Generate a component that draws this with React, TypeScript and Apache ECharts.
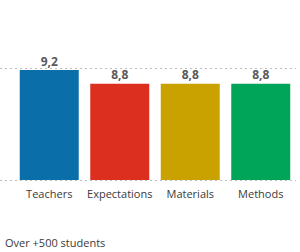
import React, { useEffect, useRef } from "react";
import * as echarts from "echarts";

const categories = ["Teachers", "Expectations", "Materials", "Methods"];
const values = [9.2, 8.8, 8.8, 8.8];
const colors = ["#0a6fa8", "#dd2f1f", "#c9a200", "#00a55a"];
const yMin = 6;
const yMax = 9.26;
const footnote = "Over +500 students";

export default function App() {
  const ref = useRef<HTMLDivElement>(null);
  useEffect(() => {
    if (!ref.current) return;
    const chart = echarts.init(ref.current, null, { renderer: "svg" });
    const font = "'Open Sans', 'Noto Sans', sans-serif";
    chart.setOption({
      animation: false,
      grid: [
        { left: 0, right: 4, top: 68, bottom: 72 },
        { left: 14, right: 4, top: 68, bottom: 72 },
      ],
      xAxis: [
        { type: "category", gridIndex: 0, data: [""], show: false },
        {
          type: "category",
          gridIndex: 1,
          data: categories,
          axisLine: { show: false },
          axisTick: { show: false },
          axisLabel: { color: "#3a3a3a", fontSize: 11, fontFamily: font, margin: 8, interval: 0, hideOverlap: false },
        },
      ],
      yAxis: [
        {
          type: "value",
          gridIndex: 0,
          min: 0,
          max: 1,
          interval: 1,
          axisLabel: { show: false },
          axisLine: { show: false },
          axisTick: { show: false },
          splitLine: { show: true, lineStyle: { color: "#bdbdbd", type: [2, 3], width: 1 } },
        },
        {
          type: "value",
          gridIndex: 1,
          min: yMin,
          max: yMax,
          show: false,
          splitLine: { show: false },
        },
      ],
      series: [
        {
          type: "bar",
          xAxisIndex: 1,
          yAxisIndex: 1,
          barWidth: 59,
          data: values.map((v, i) => ({ value: v, itemStyle: { color: colors[i] } })),
          label: {
            show: true,
            position: "top",
            distance: 3,
            color: "#595959",
            fontWeight: "bold",
            fontSize: 12,
            fontFamily: font,
            formatter: (p: any) => String(p.value).replace(".", ","),
          },
        },
      ],
      graphic: [
        {
          type: "text",
          left: 5,
          top: 237,
          style: { text: footnote, fill: "#3a3a3a", fontSize: 11, fontFamily: font },
        },
      ],
    });
    return () => chart.dispose();
  }, []);
  return <div ref={ref} style={{ width: 300, height: 252, position: "absolute", left: 0, top: 0 }} />;
}
